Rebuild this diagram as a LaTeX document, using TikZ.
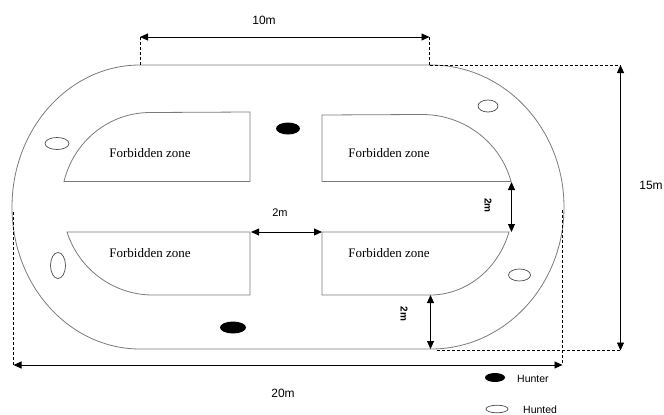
\documentclass[tikz,border=0pt]{standalone}
\usepackage{fontspec}
\setmainfont{Liberation Serif}
\newfontfamily\dimfont{Liberation Sans}
\usetikzlibrary{arrows.meta}
\definecolor{trackgray}{HTML}{7A7A7A}
\tikzset{
  track/.style={draw=trackgray, line width=0.8pt},
  zone/.style={draw=trackgray, line width=0.8pt},
  dimarrow/.style={draw=black, line width=0.9pt, {Triangle[length=8pt,width=7pt]}-{Triangle[length=8pt,width=7pt]}},
  guide/.style={draw=black, line width=0.8pt, dash pattern=on 3pt off 2pt},
  zonetext/.style={font=\fontsize{13}{15}\selectfont, inner sep=0pt},
  dimtext/.style={font=\dimfont\fontsize{12}{14}\selectfont, inner sep=0pt},
  vdimtext/.style={font=\dimfont\bfseries\fontsize{10}{12}\selectfont, inner sep=0pt, rotate=-90},
  hunted/.style={draw=black!70, line width=0.7pt, fill=white},
  legendtext/.style={font=\dimfont\fontsize{10.5}{12}\selectfont, inner sep=0pt, anchor=west}
}
\begin{document}
\begin{tikzpicture}[x=1pt, y=-1pt]
\useasboundingbox (0,0) rectangle (664,415);
% outer track
\draw[track] (140,65) -- (431,65)
  arc[start angle=-90, end angle=90, x radius=133, y radius=142]
  -- (140,349)
  arc[start angle=90, end angle=270, x radius=128, y radius=142] -- cycle;
% forbidden zones
\draw[zone] (250,181.5) -- (64,181.5)
  arc[start angle=194, end angle=270, x radius=88.6, y radius=91] -- (250,112) -- cycle;
\draw[zone] (250,232) -- (67,232)
  arc[start angle=162.1, end angle=90, x radius=90.3, y radius=91] -- (250,295) -- cycle;
\draw[zone] (322,181.5) -- (511,181.5)
  arc[start angle=-14.8, end angle=-90, x radius=92, y radius=90] -- (322,115) -- cycle;
\draw[zone] (322,232) -- (509,232)
  arc[start angle=17.9, end angle=90, x radius=83, y radius=91] -- (322,295) -- cycle;
% zone labels
\node[zonetext] (tl) at (150,153) {Forbidden zone};
\node[zonetext] (tr) at (389,153) {Forbidden zone};
\node[zonetext] (bl) at (150,253) {Forbidden zone};
\node[zonetext] (br) at (389,253) {Forbidden zone};
% coordinates for dimensions
\coordinate (tA) at (140,37);
\coordinate (tB) at (429.5,37);
\coordinate (tA0) at (140,65);
\coordinate (tB0) at (429.5,65);
\coordinate (rT) at (620.5,65);
\coordinate (rB) at (620.5,350.5);
\coordinate (rB0) at (437,350.5);
\coordinate (lA) at (13.5,365);
\coordinate (lA0) at (13.5,212);
\coordinate (lB) at (562.5,365);
\coordinate (lB0) at (562.5,210);
\coordinate (mA) at (251,232);
\coordinate (mB) at (322,232);
\coordinate (vA) at (511.5,182);
\coordinate (vB) at (511.5,232);
\coordinate (wA) at (430.5,295);
\coordinate (wB) at (430.5,349);
% guides
\draw[guide] (tA0) -- (tA);
\draw[guide] (tB0) -- (tB);
\draw[guide] (tB0) -- (rT);
\draw[guide] (rB0) -- (rB);
\draw[guide] (lA0) -- (lA);
\draw[guide] (lB0) -- (lB);
% dimension arrows
\draw[dimarrow] (tA) -- (tB);
\draw[dimarrow] (rT) -- (rB);
\draw[dimarrow] (lA) -- (lB);
\draw[dimarrow] (mA) -- (mB);
\draw[dimarrow] (vA) -- (vB);
\draw[dimarrow] (wA) -- (wB);
% dimension labels
\node[dimtext] (d10) at (264,20) {10m};
\node[dimtext] (d15) at (651,185) {15m};
\node[dimtext] (d20) at (283,393) {20m};
\node[dimtext, font=\dimfont\fontsize{11}{13}\selectfont] (d2h) at (280,212.5) {2m};
\node[vdimtext] (d2v) at (488,205.5) {2m};
\node[vdimtext] (d2b) at (404,314) {2m};
% hunters
\fill[black] (288,128.5) ellipse[x radius=12, y radius=6];
\fill[black] (233,327.5) ellipse[x radius=13, y radius=6];
% hunted
\draw[hunted] (57,143.5) ellipse[x radius=12, y radius=6];
\draw[hunted] (58,265.5) ellipse[x radius=7.5, y radius=13];
\draw[hunted] (488,106) ellipse[x radius=10, y radius=6];
\draw[hunted] (519.5,275) ellipse[x radius=11, y radius=6];
% legend
\fill[black] (495,377.5) ellipse[x radius=10, y radius=4.5];
\node[legendtext] (lh) at (517,379) {Hunter};
\draw[hunted] (497,409) ellipse[x radius=11, y radius=3.8];
\node[legendtext] (lt) at (523,409.5) {Hunted};
\end{tikzpicture}
\end{document}
